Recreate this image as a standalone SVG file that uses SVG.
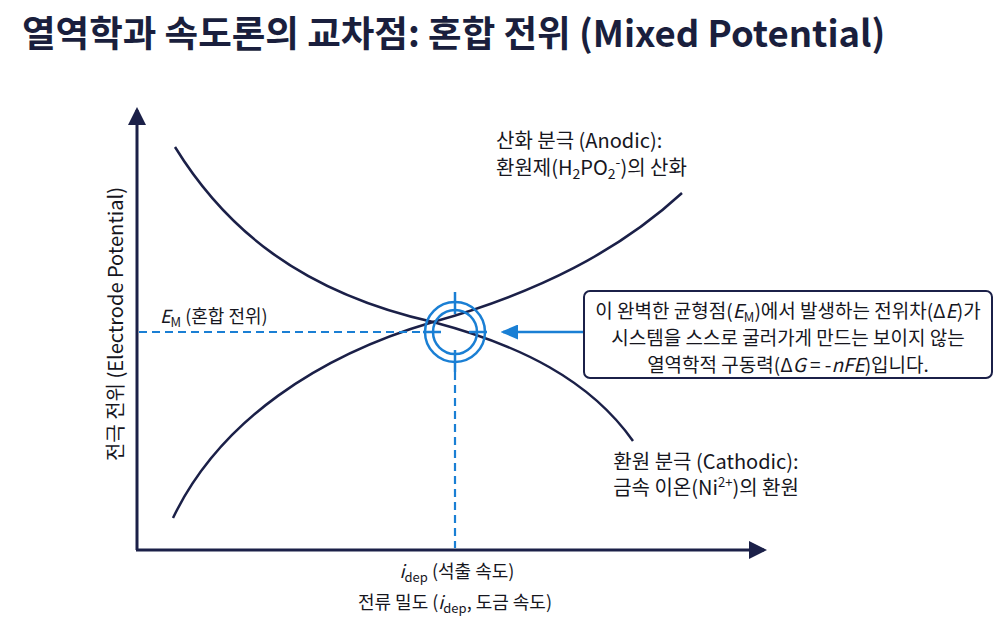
<svg xmlns="http://www.w3.org/2000/svg" width="1000" height="623" viewBox="0 0 1000 623">
<style>
.t{font-family:"Noto Sans CJK KR","Noto Sans",sans-serif;fill:#16161e;font-size:18px}
.lg{font-size:20px}
.co{font-size:19px}
.title{font-family:"Noto Sans CJK KR","Noto Sans",sans-serif;fill:#1a1f3d;font-size:36.5px;font-weight:600}
.ax{stroke:#1b2048;stroke-width:3;fill:none}
.cv{stroke:#1b2048;stroke-width:2.5;fill:none}
.dash{stroke:#1a7fd4;stroke-width:2.2;stroke-dasharray:8 5;fill:none}
.bl{stroke:#1a7fd4;stroke-width:2.5;fill:none}
</style>
<defs>
<marker id="ah" markerWidth="6" markerHeight="6" refX="5" refY="3" orient="auto" markerUnits="strokeWidth">
<path d="M0,0 L6,3 L0,6 Z" fill="#1b2048"/>
</marker>
<marker id="bh" markerWidth="7" markerHeight="6" refX="6" refY="3" orient="auto" markerUnits="strokeWidth">
<path d="M0,0 L7,3 L0,6 Z" fill="#1a7fd4"/>
</marker>
</defs>
<rect width="1000" height="623" fill="#ffffff"/>
<text class="title" x="22" y="47">열역학과 속도론의 교차점: 혼합 전위 (Mixed Potential)</text>
<g id="axes">
<line class="ax" x1="137" y1="550" x2="137" y2="110" marker-end="url(#ah)"/>
<line class="ax" x1="136" y1="550" x2="764" y2="550" marker-end="url(#ah)"/>
</g>
<g id="connectors">
<path id="cathodic-curve" class="cv" d="M175,147 C225,228 300,292 433,322 C520,345 590,380 633,441"/>
<path id="anodic-curve" class="cv" d="M173,518 C220,420 320,355 433,322 C540,292 620,250 682,193"/>
<line class="dash" x1="139" y1="332" x2="423" y2="332"/>
<line class="dash" x1="455" y1="372" x2="455" y2="548"/>
<line class="bl" x1="584" y1="332" x2="503" y2="332" marker-end="url(#bh)"/>
</g>
<g id="target">
<circle class="bl" cx="455" cy="332" r="30"/>
<circle class="bl" cx="455" cy="332" r="22"/>
<line class="bl" x1="455" y1="292" x2="455" y2="314"/>
<line class="bl" x1="455" y1="350" x2="455" y2="372"/>
<line class="bl" x1="423" y1="332" x2="441" y2="332"/>
<line class="bl" x1="469" y1="332" x2="487" y2="332"/>
</g>
<g id="y-label">
<text class="t lg" transform="translate(123,324) rotate(-90)" text-anchor="middle">전극 전위 (Electrode Potential)</text>
</g>
<g id="em-label">
<text class="t" x="160" y="323"><tspan font-style="italic">E</tspan><tspan font-size="13" dy="4">M</tspan><tspan dy="-4"> (혼합 전위)</tspan></text>
</g>
<g id="anodic-label">
<text class="t lg" x="496" y="148">산화 분극 (Anodic):</text>
<text class="t lg" x="496" y="175">환원제(H<tspan font-size="14" dy="4">2</tspan><tspan dy="-4">PO</tspan><tspan font-size="14" dy="4">2</tspan><tspan font-size="14" dy="-12">-</tspan><tspan dy="8">)의 산화</tspan></text>
</g>
<g id="cathodic-label">
<text class="t lg" x="706" y="469" text-anchor="middle">환원 분극 (Cathodic):</text>
<text class="t lg" x="706" y="495" text-anchor="middle">금속 이온(Ni<tspan font-size="13" dy="-8">2+</tspan><tspan dy="8">)의 환원</tspan></text>
</g>
<g id="callout">
<rect x="584" y="291" width="408" height="87" rx="6" fill="#ffffff" stroke="#1b2048" stroke-width="2"/>
<text class="t co" x="788" y="318" text-anchor="middle">이 완벽한 균형점(<tspan font-style="italic">E</tspan><tspan font-size="13" dy="4">M</tspan><tspan dy="-4">)에서 발생하는 전위차(Δ</tspan><tspan font-style="italic">E</tspan>)가</text>
<text class="t co" x="788" y="345" text-anchor="middle">시스템을 스스로 굴러가게 만드는 보이지 않는</text>
<text class="t co" x="788" y="372" text-anchor="middle">열역학적 구동력(Δ<tspan font-style="italic">G</tspan> = -<tspan font-style="italic">nFE</tspan>)입니다.</text>
</g>
<g id="x-labels">
<text class="t" x="457" y="578" text-anchor="middle"><tspan font-style="italic">i</tspan><tspan font-size="13" dy="4">dep</tspan><tspan dy="-4"> (석출 속도)</tspan></text>
<text class="t" x="455" y="609" text-anchor="middle">전류 밀도 (<tspan font-style="italic">i</tspan><tspan font-size="13" dy="4">dep</tspan><tspan dy="-4">, 도금 속도)</tspan></text>
</g>
</svg>
